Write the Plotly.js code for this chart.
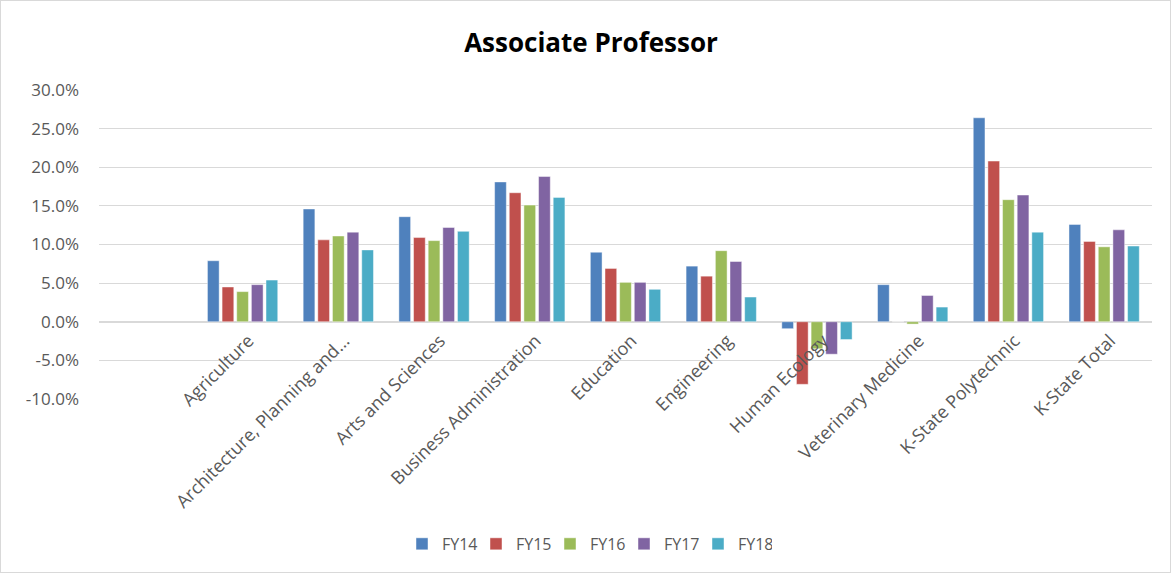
<!DOCTYPE html>
<html>
<head>
<meta charset="utf-8">
<script src="https://cdn.plot.ly/plotly-3.0.1.min.js"></script>
<style>
  html, body { margin: 0; padding: 0; background: #fff; }
  #wrap { position: relative; width: 1171px; height: 573px; }
  #chart { position: absolute; left: 0; top: 0; width: 1171px; height: 573px; }
  #frame { position: absolute; left: 0; top: 0; width: 1171px; height: 573px; box-sizing: border-box; border: 1px solid #d9d9d9; pointer-events: none; }
</style>
</head>
<body>
<div id="wrap"><div id="chart"></div><div id="frame"></div></div>
<script>
const categories = ["Agriculture", "Architecture, Planning and...", "Arts and Sciences", "Business Administration", "Education", "Engineering", "Human Ecology", "Veterinary Medicine", "K-State Polytechnic", "K-State Total"];
const seriesNames = ["FY14", "FY15", "FY16", "FY17", "FY18"];
const fy14 = [7.9, 14.6, 13.6, 18.1, 9.0, 7.2, -0.9, 4.8, 26.4, 12.6];
const fy15 = [4.5, 10.6, 10.9, 16.7, 6.9, 5.9, -8.1, 0.0, 20.8, 10.4];
const fy16 = [3.9, 11.1, 10.5, 15.1, 5.1, 9.2, -3.5, -0.3, 15.8, 9.7];
const fy17 = [4.8, 11.6, 12.2, 18.8, 5.1, 7.8, -4.2, 3.4, 16.4, 11.9];
const fy18 = [5.4, 9.3, 11.7, 16.1, 4.2, 3.2, -2.3, 1.9, 11.6, 9.8];
const colors = ["#4F81BD", "#C0504D", "#9BBB59", "#8064A2", "#4BACC6"];
const yTicks = [-10, -5, 0, 5, 10, 15, 20, 25, 30];

const allSeries = [fy14, fy15, fy16, fy17, fy18];
const traces = allSeries.map((vals, i) => ({
  type: "bar",
  name: seriesNames[i],
  x: categories,
  y: vals,
  marker: { color: colors[i], line: { color: "rgba(255,255,255,0.6)", width: 0.75 } },
  hoverinfo: "x+y+name"
}));

const layout = {
  width: 1171,
  height: 573,
  paper_bgcolor: "#ffffff",
  plot_bgcolor: "#ffffff",
  font: { family: "Open Sans, sans-serif", color: "#595959" },
  title: {
    text: "<b>Associate Professor</b>",
    font: { family: "Open Sans, sans-serif", size: 26, color: "#000000" },
    x: 591 / 1171, xanchor: "center",
    y: 1 - 43 / 573, yanchor: "middle", yref: "container"
  },
  margin: { l: 99, r: 19, t: 90, b: 174, pad: 0 },
  barmode: "group",
  bargap: 0.235,
  bargroupgap: 0.2,
  xaxis: {
    type: "category",
    range: [-1.5, 9.5],
    anchor: "free",
    position: 0.25,
    showline: false,
    showgrid: false,
    zeroline: false,
    ticks: "",
    tickangle: -45,
    ticklabelstandoff: 4,
    ticklabelshift: 6,
    tickfont: { family: "Open Sans, sans-serif", size: 18, color: "#595959" },
    automargin: false
  },
  yaxis: {
    range: [-10, 30],
    tickvals: yTicks,
    ticktext: yTicks.map(v => v.toFixed(1) + "%"),
    showgrid: true,
    gridcolor: "#d9d9d9",
    gridwidth: 1,
    zeroline: true,
    zerolinecolor: "#d9d9d9",
    zerolinewidth: 1.5,
    showline: false,
    ticks: "",
    ticklabelstandoff: 19,
    tickfont: { family: "Open Sans, sans-serif", size: 17, color: "#595959" },
    automargin: false
  },
  showlegend: true,
  legend: {
    orientation: "h",
    x: (402 - 99) / 1053, xanchor: "left",
    y: -0.469, yanchor: "middle",
    font: { family: "Open Sans, sans-serif", size: 16, color: "#595959" },
    itemwidth: 30,
    entrywidth: 29,
    entrywidthmode: "pixels",
    traceorder: "normal"
  }
};

Plotly.newPlot("chart", traces, layout, { displayModeBar: false, staticPlot: true });
</script>
</body>
</html>
